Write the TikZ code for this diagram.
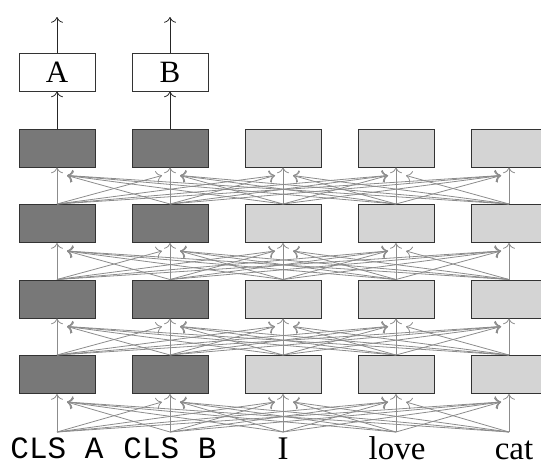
\documentclass[tikz,border=0pt]{standalone}
\usepackage{fontspec}
\setmainfont{Liberation Serif}
\setmonofont{Liberation Mono}
\usetikzlibrary{arrows,arrows.meta,positioning,calc}

\begin{document}
\begin{tikzpicture}[x = 1pt, y = -1pt, >={To[scale = 1.7]},
  cell/.style = {draw = black!80, line width = 1pt, minimum width = 76pt, minimum height = 38pt, inner sep = 0pt},
  clscell/.style = {cell, fill = black!53},
  tokcell/.style = {cell, fill = black!17},
  outbox/.style = {cell, fill = white, font = \fontsize{31}{33}\selectfont},
  link/.style = {->, black!45, line width = .8pt},
  head/.style = {->, black!85, line width = .8pt}]
\useasboundingbox (0,0) rectangle (541,466);

% input tokens
\node[anchor = base, inner sep = 0pt, font = \fontsize{31}{33}\ttfamily] (w1) at (57,458) {CLS A};
\node[anchor = base, inner sep = 0pt, font = \fontsize{31}{33}\ttfamily] (w2) at (170,458) {CLS B};
\node[anchor = base, inner sep = 0pt, font = \fontsize{33}{36}\selectfont] (w3) at (283,459) {I};
\node[anchor = base, inner sep = 0pt, font = \fontsize{33}{36}\selectfont] (w4) at (397,459) {love};
\node[anchor = base, inner sep = 0pt, font = \fontsize{33}{36}\selectfont] (w5) at (514,459) {cat};
\foreach \i/\cx in {1/57,2/170,3/283,4/396,5/509}
  \coordinate (in-\i) at (\cx,432);

% encoder layers
\foreach \r/\cy in {1/374.5,2/299,3/223.5,4/148} {
  \foreach \i/\cx in {1/57,2/170}
    \node[clscell] (h\r-\i) at (\cx,\cy) {};
  \foreach \i/\cx in {3/283,4/396,5/509}
    \node[tokcell] (h\r-\i) at (\cx,\cy) {};
}

% attention links
\foreach \i in {1,...,5} {
  \foreach \j in {1,...,5} {
    \ifnum\i=\j \draw[link] (in-\i) -- (h1-\j.south);
    \else\ifnum\i<\j \draw[link] (in-\i) -- ($(h1-\j.south)+(-8,8)$);
    \else \draw[link] (in-\i) -- ($(h1-\j.south)+(10,8)$);
    \fi\fi
  }
}
\foreach \r [count = \s from 2] in {1,2,3} {
  \foreach \i in {1,...,5} {
    \foreach \j in {1,...,5} {
      \ifnum\i=\j \draw[link] (h\r-\i.north) -- (h\s-\j.south);
      \else\ifnum\i<\j \draw[link] (h\r-\i.north) -- ($(h\s-\j.south)+(-8,8)$);
      \else \draw[link] (h\r-\i.north) -- ($(h\s-\j.south)+(10,8)$);
      \fi\fi
    }
  }
}

% classifier heads
\node[outbox] (A) at (57,72) {A};
\node[outbox] (B) at (170,72) {B};
\coordinate (outA) at (57,17);
\coordinate (outB) at (170,17);
\draw[head] (h4-1.north) -- (A.south);
\draw[head] (h4-2.north) -- (B.south);
\draw[head] (A.north) -- (outA);
\draw[head] (B.north) -- (outB);
\end{tikzpicture}
\end{document}
